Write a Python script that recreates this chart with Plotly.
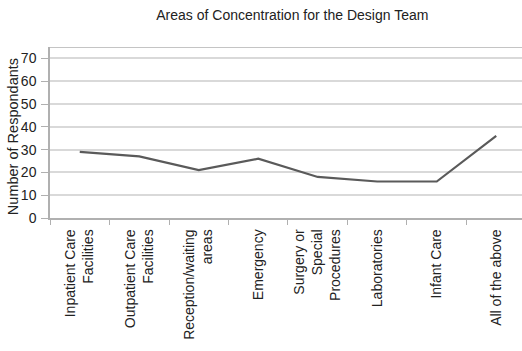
import plotly.graph_objects as go

categories = [
    "Inpatient Care<br>Facilities",
    "Outpatient Care<br>Facilities",
    "Reception/waiting<br>areas",
    "Emergency",
    "Surgery or<br>Special<br>Procedures",
    "Laboratories",
    "Infant Care",
    "All of the above",
]
respondents = [29, 27, 21, 26, 18, 16, 16, 36]
y_ticks = [0, 10, 20, 30, 40, 50, 60, 70]

FONT = "Liberation Sans, Arial, sans-serif"

fig = go.Figure()
fig.add_trace(go.Scatter(
    x=categories,
    y=respondents,
    mode="lines",
    line=dict(color="#5a5a5a", width=2.2),
    hoverinfo="x+y",
))

# plot-area frame across the top
fig.add_shape(type="line", xref="paper", yref="y", x0=0, x1=1, y0=75, y1=75,
              line=dict(color="#c4c4c4", width=2), layer="below")

# y-axis title placed as a rotated annotation
fig.add_annotation(
    text="Number of Respondants",
    xref="paper", yref="paper", x=-0.078, y=0.474,
    xanchor="center", yanchor="middle", textangle=-90, showarrow=False,
    font=dict(family=FONT, size=14.5, color="#222"),
)

fig.update_layout(
    width=522,
    height=351,
    margin=dict(l=50, r=0, t=47, b=133),
    paper_bgcolor="white",
    plot_bgcolor="white",
    showlegend=False,
    title=dict(
        text="Areas of Concentration for the Design Team",
        x=0.56, xanchor="center", y=0.957, yanchor="middle",
        font=dict(family=FONT, size=14, color="#222"),
    ),
    font=dict(family=FONT, size=14, color="#222"),
)

fig.update_xaxes(
    type="category",
    range=[-0.5, 7.433],
    tickson="boundaries",
    ticks="outside",
    ticklen=5,
    tickcolor="#b0b0b0",
    tickwidth=1,
    tickangle=-90,
    tickfont=dict(family=FONT, size=14, color="#222"),
    showline=True,
    linecolor="#b0b0b0",
    linewidth=1.5,
    showgrid=False,
    zeroline=False,
    ticklabelstandoff=4,
)

fig.update_yaxes(
    range=[0, 75],
    tickvals=y_ticks,
    ticks="outside",
    ticklen=7,
    tickcolor="#b0b0b0",
    tickfont=dict(family=FONT, size=14, color="#222"),
    showline=True,
    linecolor="#b0b0b0",
    linewidth=1.5,
    showgrid=True,
    gridcolor="#d9d9d9",
    gridwidth=1.5,
    zeroline=False,
    ticklabelstandoff=2,
)

fig.write_html("out.html")
